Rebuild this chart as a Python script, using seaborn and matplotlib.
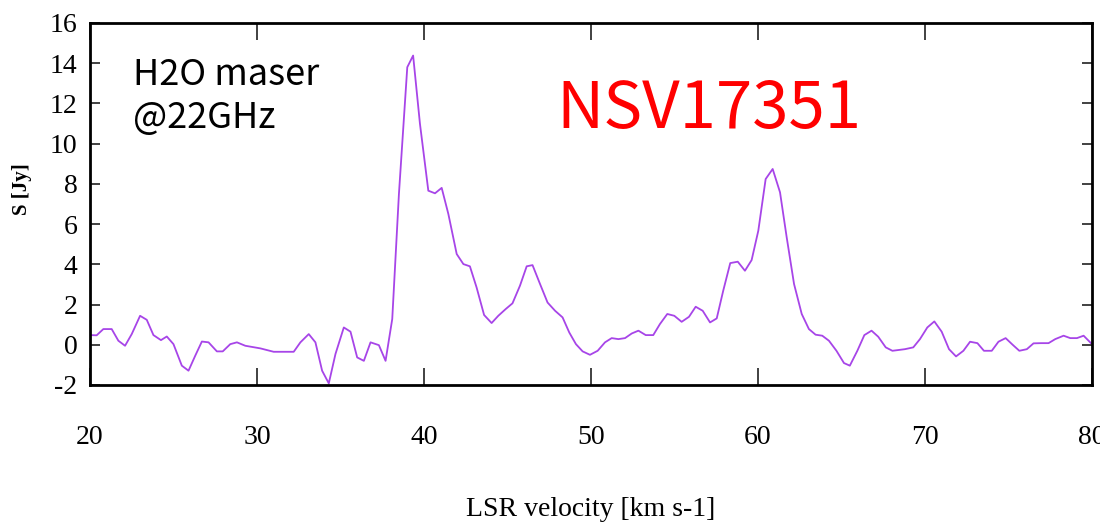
import matplotlib
matplotlib.use("Agg")
import matplotlib.pyplot as plt
import pandas as pd
import seaborn as sns

# H2O maser spectrum of NSV17351
velocity = [20.0, 20.4, 20.8, 21.3, 21.7, 22.1, 22.5, 23.0, 23.4, 23.8, 24.25, 24.6,
            25.0, 25.5, 25.9, 26.3, 26.7, 27.1, 27.6, 27.95, 28.4, 28.8, 29.3, 30.2,
            31.0, 32.2, 32.6, 33.1, 33.5, 33.9, 34.3, 34.7, 35.2, 35.6, 36.0, 36.4,
            36.8, 37.3, 37.7, 38.1, 38.5, 39.0, 39.35, 39.76, 40.26, 40.66, 41.06,
            41.46, 41.96, 42.36, 42.75, 43.15, 43.6, 44.05, 44.45, 44.9, 45.3, 45.75,
            46.15, 46.5, 46.95, 47.4, 47.85, 48.3, 48.7, 49.1, 49.5, 49.94, 50.4,
            50.84, 51.24, 51.64, 52.04, 52.44, 52.84, 53.28, 53.73, 54.13, 54.57,
            54.99, 55.43, 55.87, 56.27, 56.69, 57.13, 57.53, 57.92, 58.34, 58.79,
            59.22, 59.62, 60.02, 60.46, 60.88, 61.32, 61.72, 62.16, 62.62, 63.05,
            63.45, 63.85, 64.25, 64.7, 65.15, 65.5, 65.95, 66.37, 66.8, 67.2, 67.65,
            68.05, 68.8, 69.3, 69.7, 70.14, 70.56, 71.0, 71.44, 71.86, 72.3, 72.7,
            73.14, 73.53, 74.0, 74.4, 74.83, 75.25, 75.65, 76.1, 76.5, 76.95, 77.4,
            77.8, 78.3, 78.7, 79.1, 79.5, 80.0]
flux = [0.48, 0.47, 0.78, 0.78, 0.2, -0.05, 0.53, 1.44, 1.24, 0.48, 0.23, 0.41,
        0.03, -1.04, -1.29, -0.55, 0.16, 0.12, -0.33, -0.33, 0.03, 0.12, -0.05, -0.18,
        -0.35, -0.35, 0.12, 0.53, 0.12, -1.29, -1.92, -0.46, 0.86, 0.65, -0.63, -0.8,
        0.12, -0.02, -0.8, 1.28, 7.5, 13.8, 14.38, 10.98, 7.66, 7.53, 7.8,
        6.5, 4.51, 4.01, 3.9, 2.85, 1.48, 1.08, 1.44, 1.78, 2.06, 2.94,
        3.9, 3.96, 3.02, 2.1, 1.69, 1.36, 0.61, 0.03, -0.33, -0.5, -0.3,
        0.12, 0.33, 0.28, 0.33, 0.56, 0.7, 0.48, 0.48, 1.03, 1.53,
        1.44, 1.14, 1.39, 1.89, 1.69, 1.11, 1.31, 2.69, 4.06, 4.13,
        3.68, 4.21, 5.67, 8.24, 8.74, 7.58, 5.34, 3.02, 1.53, 0.78,
        0.5, 0.45, 0.2, -0.3, -0.91, -1.04, -0.3, 0.48, 0.7, 0.4, -0.13,
        -0.3, -0.22, -0.13, 0.28, 0.86, 1.16, 0.65, -0.22, -0.58, -0.3, 0.15,
        0.08, -0.3, -0.3, 0.15, 0.33, 0.0, -0.3, -0.22, 0.07, 0.08, 0.08,
        0.28, 0.45, 0.33, 0.33, 0.45, 0.03]
x_ticks = [20, 30, 40, 50, 60, 70, 80]
y_ticks = [-2, 0, 2, 4, 6, 8, 10, 12, 14, 16]

df = pd.DataFrame({"v": velocity, "S": flux})

sns.set_style("white")
plt.rcParams["font.family"] = ["Liberation Serif", "DejaVu Serif"]
sans = ["Noto Sans CJK JP", "DejaVu Sans"]

fig = plt.figure(figsize=(11, 5.22), dpi=100)
ax = fig.add_axes([0.0818, 0.2625, 0.9109, 0.6935])

sns.lineplot(data=df, x="v", y="S", color="#a745e8", linewidth=1.3, ax=ax)

ax.set_xlim(20, 80)
ax.set_ylim(-2, 16)
ax.set_xticks(x_ticks)
ax.set_yticks(y_ticks)
ax.set_xticklabels([str(t) for t in x_ticks], fontsize=20)
ax.set_yticklabels([str(t) for t in y_ticks], fontsize=20)

ax.tick_params(axis="x", direction="in", length=12, width=1.3, top=True,
               bottom=True, pad=29, color="#333333", labelcolor="black")
ax.tick_params(axis="y", direction="in", length=7, width=1.3, left=True,
               right=True, pad=9, color="#333333", labelcolor="black")
for s in ax.spines.values():
    s.set_linewidth(2.0)
    s.set_color("black")

ax.set_xlabel("LSR velocity [km s-1]", fontsize=20, labelpad=34, color="black")
ax.set_ylabel("S [Jy]", fontsize=15, fontweight="bold", color="black")
ax.yaxis.set_label_coords(-0.058, 0.54)

ax.text(0.043, 0.829, "H2O maser", transform=ax.transAxes, fontsize=26,
        va="baseline", ha="left", family=sans, color="black")
ax.text(0.043, 0.71, "@22GHz", transform=ax.transAxes, fontsize=26,
        va="baseline", ha="left", family=sans, color="black")
ax.text(0.465, 0.71, "NSV17351", transform=ax.transAxes, fontsize=47,
        va="baseline", ha="left", color="#ff0000", family=sans)

fig.savefig("out.png", dpi=100)
